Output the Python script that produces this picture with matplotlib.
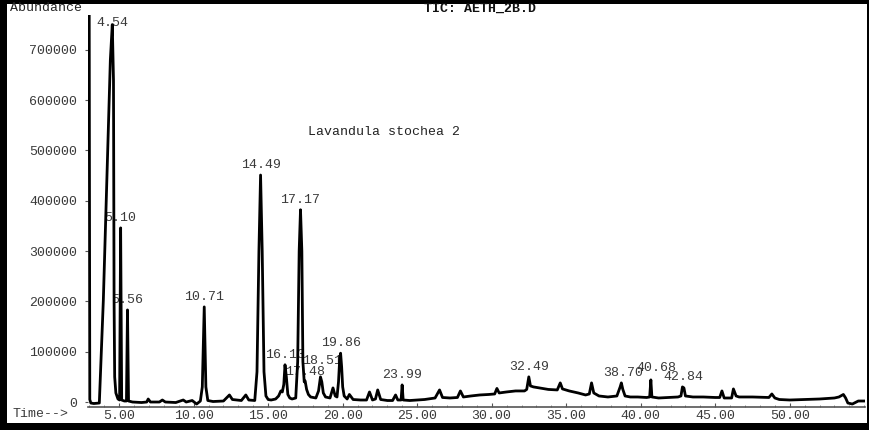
import numpy as np
import matplotlib
matplotlib.use("Agg")
import matplotlib.pyplot as plt
from matplotlib.ticker import MultipleLocator

# chromatogram trace (time in min, abundance in thousands)
trace_min = [2.90, 2.99, 3.03, 3.10, 3.30, 3.67, 3.94, 4.21, 4.41, 4.54, 4.62, 4.66, 4.70, 4.78, 4.92,
             5.03, 5.10, 5.17, 5.35, 5.49, 5.56, 5.63, 5.90, 6.50, 6.85, 6.95, 7.10, 7.70, 7.90, 8.10,
             8.80, 9.30, 9.50, 9.90, 10.20, 10.45, 10.58, 10.71, 10.82, 10.95, 11.30, 12.00, 12.20, 12.40,
             12.60, 13.20, 13.50, 13.70, 14.10, 14.25, 14.38, 14.49, 14.60, 14.72, 14.85, 15.00, 15.20,
             15.50, 15.70, 15.85, 15.95, 16.05, 16.13, 16.22, 16.32, 16.45, 16.60, 16.85, 16.98, 17.08,
             17.17, 17.26, 17.33, 17.42, 17.48, 17.58, 17.70, 17.85, 18.20, 18.38, 18.51, 18.60, 18.70,
             18.85, 19.15, 19.35, 19.50, 19.62, 19.72, 19.80, 19.86, 19.93, 20.00, 20.10, 20.30, 20.45,
             20.70, 21.20, 21.60, 21.80, 22.00, 22.20, 22.35, 22.55, 23.00, 23.35, 23.55, 23.70, 23.92,
             23.99, 24.06, 24.50, 25.50, 26.20, 26.50, 26.70, 27.20, 27.70, 27.90, 28.10, 28.60, 29.20,
             29.80, 30.20, 30.35, 30.50, 31.00, 31.60, 32.20, 32.35, 32.49, 32.60, 32.80, 33.20, 33.80,
             34.40, 34.60, 34.75, 35.20, 35.80, 36.30, 36.55, 36.70, 36.85, 37.20, 37.80, 38.40, 38.62,
             38.70, 38.80, 38.95, 39.30, 39.80, 40.40, 40.60, 40.68, 40.75, 41.20, 41.80, 42.50, 42.70,
             42.80, 42.90, 43.00, 43.50, 44.20, 45.00, 45.30, 45.45, 45.60, 45.90, 46.10, 46.22, 46.40,
             46.60, 47.50, 48.50, 48.60, 48.80, 49.00, 49.30, 50.00, 51.00, 52.00, 53.00, 53.30, 53.60,
             53.75, 53.90, 54.20, 54.60, 55.20]
trace_kabund = [800, 800, 5, -2, -3, -2, 203, 481, 680, 750, 640, 200, 50, 18, 6,
                4, 346, 4, 2, 2, 183, 2, 0, -1, 0, 6, 0, 0, 4, 0,
                -1, 4, 0, 3, -4, 2, 30, 189, 30, 3, 1, 2, 8, 14,
                5, 3, 14, 4, 3, 60, 300, 451, 300, 60, 12, 5, 4,
                6, 12, 22, 20, 35, 74, 50, 15, 8, 6, 8, 80, 300,
                382, 300, 80, 40, 42, 25, 15, 10, 8, 22, 50, 40, 18,
                10, 8, 28, 12, 10, 40, 85, 97, 70, 30, 12, 6, 15,
                5, 4, 4, 20, 4, 6, 24, 5, 3, 3, 14, 4, 4,
                34, 4, 3, 5, 8, 24, 9, 8, 9, 22, 10, 12, 14,
                15, 16, 27, 18, 20, 22, 22, 25, 50, 32, 30, 28, 25,
                24, 38, 26, 22, 18, 14, 16, 38, 18, 12, 10, 12, 30,
                38, 25, 12, 10, 10, 9, 10, 44, 10, 8, 9, 10, 12,
                30, 28, 12, 10, 10, 9, 9, 22, 8, 8, 8, 26, 12,
                10, 10, 9, 9, 16, 8, 5, 4, 5, 6, 8, 10, 15,
                8, -2, -4, 2, 2]

# labelled peaks (retention times printed on the chart)
peak_rt = [4.54, 5.10, 5.56, 10.71, 14.49, 16.13, 17.17, 17.48, 18.51, 19.86, 23.99, 32.49,
           38.70, 40.68, 42.84]
peak_text = ["4.54", "5.10", "5.56", "10.71", "14.49", "16.13", "17.17", "17.48", "18.51",
             "19.86", "23.99", "32.49", "38.70", "40.68", "42.84"]

y_ticks = [0, 100000, 200000, 300000, 400000, 500000, 600000, 700000]
x_ticks = [5, 10, 15, 20, 25, 30, 35, 40, 45, 50]

t = np.array(trace_min)
a = np.array(trace_kabund) * 1000.0

mono = "Liberation Mono"
grey = "#3a3a3a"

fig = plt.figure(figsize=(8.7, 4.3), dpi=100, facecolor="black")

# white paper inside the black scan border
paper = fig.add_axes([7 / 870, 7 / 430, 860 / 870, 419 / 430])
paper.set_facecolor("white")
paper.set_xticks([])
paper.set_yticks([])
for s in paper.spines.values():
    s.set_visible(False)

ax = fig.add_axes([88 / 870, 23 / 430, 777 / 870, 392 / 430])
ax.set_facecolor("none")
ax.plot(t, a, color="black", lw=2.0, zorder=3, solid_joinstyle="round")

ax.set_xlim(2.91, 55.05)
ax.set_ylim(-9900, 769000)

ax.set_xticks(x_ticks)
ax.set_xticklabels(["%.2f" % v for v in x_ticks], fontfamily=mono, fontsize=9.5, color=grey)
ax.xaxis.set_minor_locator(MultipleLocator(1))
ax.tick_params(axis="x", which="major", direction="in", length=3, width=0.8, color="#555555", pad=2)
ax.tick_params(axis="x", which="minor", direction="in", length=1.5, width=0.6, color="#777777")

ax.set_yticks(y_ticks)
ax.set_yticklabels([str(v) for v in y_ticks], fontfamily=mono, fontsize=9.5, color=grey)
ax.tick_params(axis="y", direction="out", length=2, width=0.8, color="#555555", pad=5.8)

for side in ["top", "right", "left"]:
    ax.spines[side].set_visible(False)
ax.spines["bottom"].set_color("#555555")
ax.spines["bottom"].set_linewidth(1.2)

# a few labels were shifted by the data system to dodge neighbours (points)
label_nudge = {"18.51": (1, 4), "40.68": (4, 1), "38.70": (1, 0), "17.48": (0, -1)}

# peak labels sit a little above each apex, kept under the top of the frame
for rt, txt in zip(peak_rt, peak_text):
    h = np.interp(rt, t, a)
    dx, dy = label_nudge.get(txt, (0, 0))
    ax.annotate(txt, (rt, min(h + 20000, 753000)), xytext=(dx, dy), textcoords="offset points",
                ha="center", va="center", fontfamily=mono, fontsize=9.5, color=grey, zorder=2)

fig.text(10 / 870, 1 - 8 / 430, "Abundance", ha="left", va="center",
         fontfamily=mono, fontsize=9.5, color="#222222")
fig.text(480 / 870, 1 - 9 / 430, "TIC: AETH_2B.D", ha="center", va="center",
         fontfamily=mono, fontsize=9.5, fontweight="bold", color="#111111")
fig.text(12 / 870, 1 - 414 / 430, "Time-->", ha="left", va="center",
         fontfamily=mono, fontsize=9.5, color=grey)
fig.text(384 / 870, 1 - 132 / 430, "Lavandula stochea 2", ha="center", va="center",
         fontfamily=mono, fontsize=9.5, color="#222222")

fig.savefig("out.png", dpi=100, facecolor=fig.get_facecolor())
